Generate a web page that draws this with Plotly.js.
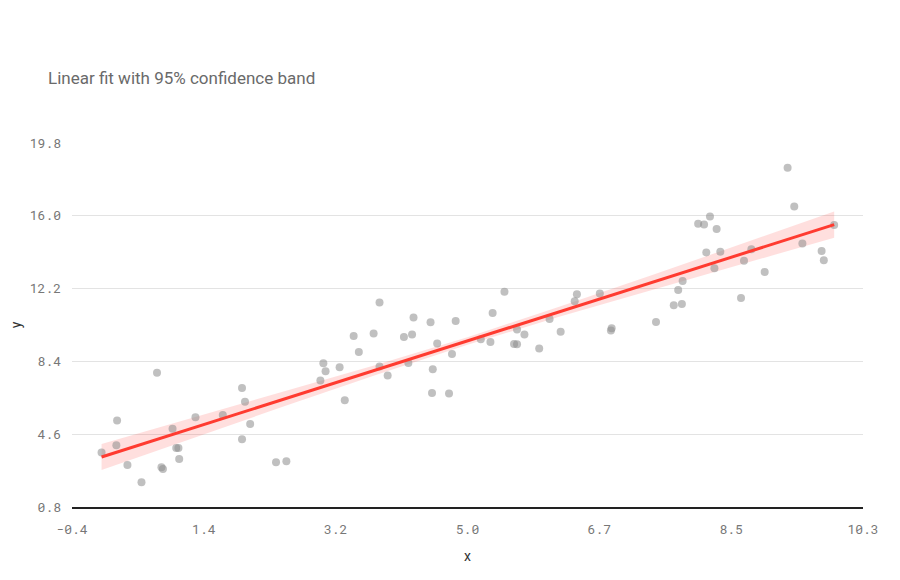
<!DOCTYPE html>
<html>
<head>
<meta charset="utf-8">
<script src="https://cdn.plot.ly/plotly-3.0.1.min.js"></script>
<style>
  html, body { margin: 0; padding: 0; background: #fff; }
  #chart { width: 900px; height: 580px; }
</style>
</head>
<body>
<div id="chart"></div>
<script>
// scatter points
const xs = [0.00, 0.20, 0.21, 0.35, 0.54, 0.75, 0.81, 0.83, 0.96, 1.01,
  1.04, 1.05, 1.27, 1.64, 1.90, 1.90, 1.94, 2.01, 2.36, 2.50,
  2.96, 3.00, 3.03, 3.22, 3.29, 3.41, 3.48, 3.68, 3.76, 3.76,
  3.87, 4.09, 4.20, 4.15, 4.45, 4.22, 4.54, 4.48, 4.47, 4.70,
  4.74, 4.79, 5.13, 5.26, 5.29, 5.45, 5.58, 5.62, 5.62, 5.72,
  5.92, 6.06, 6.21, 6.40, 6.43, 6.74, 6.89, 6.90, 7.50, 7.74,
  7.85, 7.80, 7.86, 8.07, 8.15, 8.23, 8.32, 8.18, 8.37, 8.29,
  8.65, 8.69, 8.79, 8.97, 9.28, 9.37, 9.48, 9.74, 9.77, 9.91];
const ys = [3.64, 4.02, 5.31, 2.99, 2.09, 7.81, 2.87, 2.78, 4.89, 3.88,
  3.88, 3.31, 5.48, 5.60, 4.33, 7.01, 6.30, 5.13, 3.13, 3.19,
  7.40, 8.30, 7.88, 8.09, 6.37, 9.72, 8.89, 9.85, 11.47, 8.13,
  7.67, 9.67, 9.80, 8.32, 10.44, 10.69, 9.34, 7.99, 6.75, 6.73,
  8.79, 10.51, 9.55, 9.41, 10.93, 12.04, 9.31, 9.29, 10.07, 9.80,
  9.07, 10.61, 9.95, 11.54, 11.90, 11.94, 10.01, 10.13, 10.46, 11.33,
  11.39, 12.13, 12.60, 15.59, 15.54, 15.96, 15.31, 14.09, 14.13, 13.26,
  11.71, 13.66, 14.25, 13.07, 18.51, 16.49, 14.55, 14.16, 13.68, 15.52];

// fitted line and 95% band
const bandX = [0.00, 1.24, 2.48, 3.72, 4.96, 6.19, 7.43, 8.67, 9.91];
const fitY = [3.41, 4.93, 6.45, 7.96, 9.48, 10.99, 12.50, 14.02, 15.54];
const bandUpper = [4.09, 5.46, 6.83, 8.22, 9.68, 11.25, 12.88, 14.55, 16.22];
const bandLower = [2.73, 4.40, 6.07, 7.70, 9.28, 10.73, 12.12, 13.49, 14.86];

const xTickVals = [-0.4, 1.383, 3.167, 4.95, 6.733, 8.517, 10.3];
const xTickText = ["-0.4", "1.4", "3.2", "5.0", "6.7", "8.5", "10.3"];
const yTickVals = [0.8, 4.6, 8.4, 12.2, 16.0, 19.8];

const mono = "Roboto Mono, DejaVu Sans Mono, monospace";

const traces = [
  {
    x: bandX.concat(bandX.slice().reverse()),
    y: bandUpper.concat(bandLower.slice().reverse()),
    type: "scatter",
    mode: "lines",
    fill: "toself",
    fillcolor: "rgba(255, 59, 48, 0.16)",
    line: { width: 0 },
    hoverinfo: "skip",
    showlegend: false
  },
  {
    x: xs,
    y: ys,
    type: "scatter",
    mode: "markers",
    marker: { size: 8, color: "rgba(140, 140, 140, 0.55)" },
    showlegend: false
  },
  {
    x: [bandX[0], bandX[bandX.length - 1]],
    y: [fitY[0], fitY[fitY.length - 1]],
    type: "scatter",
    mode: "lines",
    line: { color: "#ff3b30", width: 3 },
    showlegend: false
  }
];

Plotly.newPlot("chart", traces, {
  width: 900,
  height: 580,
  paper_bgcolor: "#fff",
  plot_bgcolor: "#fff",
  font: { family: "Roboto, sans-serif", color: "#444" },
  margin: { l: 72, r: 37, t: 143, b: 73 },
  title: {
    text: "Linear fit with 95% confidence band",
    font: { size: 17, color: "#6a6a6a", family: "Roboto, sans-serif" },
    xref: "container",
    x: 48 / 900,
    xanchor: "left",
    yref: "container",
    y: 1 - 78 / 580,
    yanchor: "middle"
  },
  xaxis: {
    range: [-0.4, 10.3],
    tickvals: xTickVals,
    ticktext: xTickText,
    showgrid: false,
    zeroline: false,
    showline: true,
    linecolor: "#222",
    linewidth: 1.5,
    ticks: "",
    ticklabelstandoff: 10,
    tickfont: { family: mono, size: 13, color: "#777" },
    title: { text: "x", font: { size: 14, color: "#333" }, standoff: 14 }
  },
  yaxis: {
    range: [0.8, 19.8],
    tickvals: yTickVals,
    tickformat: ".1f",
    showgrid: true,
    gridcolor: "#e3e3e3",
    zeroline: false,
    showline: false,
    ticks: "",
    ticklabelstandoff: 10,
    tickfont: { family: mono, size: 13, color: "#777" },
    title: { text: "y", font: { size: 14, color: "#333" }, standoff: 4 }
  }
}, { displayModeBar: false });
</script>
</body>
</html>
